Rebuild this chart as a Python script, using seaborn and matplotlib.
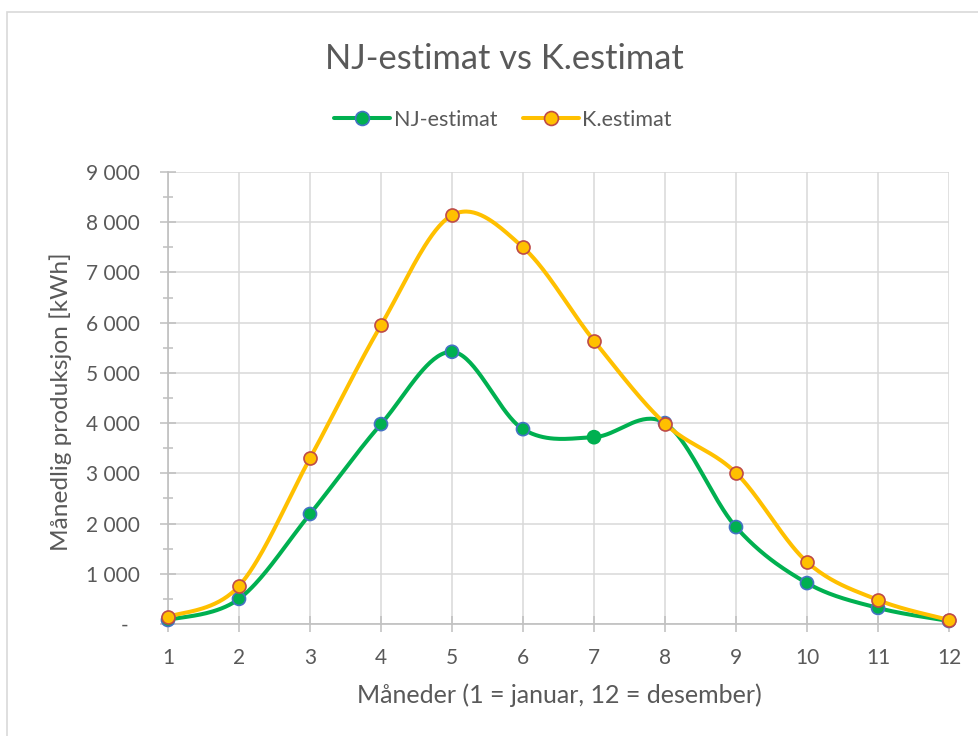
import numpy as np
import pandas as pd
import matplotlib
matplotlib.use("Agg")
import matplotlib.pyplot as plt
from matplotlib.lines import Line2D
from matplotlib.patches import Rectangle
from matplotlib.ticker import FuncFormatter, MultipleLocator
import seaborn as sns

# Monthly production estimates (kWh)
months = [1, 2, 3, 4, 5, 6, 7, 8, 9, 10, 11, 12]
nj_estimat = [80, 500, 2190, 3980, 5420, 3880, 3720, 4000, 1930, 815, 320, 60]
k_estimat = [140, 757, 3300, 5950, 8140, 7500, 5640, 3990, 3008, 1235, 478, 80]
series_names = ["NJ-estimat", "K.estimat"]

title_text = "NJ-estimat vs K.estimat"
xlabel_text = "Måneder (1 = januar, 12 = desember)"
ylabel_text = "Månedlig produksjon [kWh]"

GREEN = "#00B050"
YELLOW = "#FFC000"
BLUE_EDGE = "#4472C4"
RED_EDGE = "#BE4B48"
TEXT = "#595959"
AXIS = "#BFBFBF"
GRID = "#D9D9D9"

sns.set_theme(style="white")
plt.rcParams["font.family"] = ["Lato", "DejaVu Sans"]


def smooth_curve(x, y, n=40):
    """Piecewise cubic Bezier through the points (Catmull-Rom style tangents)."""
    pts = np.column_stack([np.asarray(x, float), np.asarray(y, float)])
    out = []
    t = np.linspace(0, 1, n)[:, None]
    for i in range(len(pts) - 1):
        p0 = pts[i - 1] if i > 0 else pts[i]
        p1, p2 = pts[i], pts[i + 1]
        p3 = pts[i + 2] if i + 2 < len(pts) else pts[i + 1]
        c1 = p1 + (p2 - p0) / 6.0
        c2 = p2 - (p3 - p1) / 6.0
        seg = ((1 - t) ** 3) * p1 + 3 * ((1 - t) ** 2) * t * c1 \
            + 3 * (1 - t) * t ** 2 * c2 + t ** 3 * p2
        out.append(seg if i == 0 else seg[1:])
    arr = np.vstack(out)
    return pd.DataFrame({"x": arr[:, 0], "y": arr[:, 1]})


W, H = 979, 736
fig = plt.figure(figsize=(W / 100, H / 100), dpi=100)
fig.patch.set_facecolor("white")

# chart-area border
fig.add_artist(Rectangle((7.5 / W, -0.2), 2.0, (H - 11.5) / H + 0.2,
                         transform=fig.transFigure, fill=False,
                         edgecolor=GRID, linewidth=1.2))

ax = fig.add_axes([168 / W, 1 - 624 / H, 781 / W, 452 / H])
ax.set_facecolor("white")

nj_curve = smooth_curve(months, nj_estimat)
k_curve = smooth_curve(months, k_estimat)

MARKER_S = 88
MARKER_LW = 1.2

# NJ series: smoothed line + markers (one point drawn without the blue rim)
sns.lineplot(data=nj_curve, x="x", y="y", sort=False, estimator=None,
             color=GREEN, linewidth=2.9, ax=ax, zorder=3)
nj_edges = [BLUE_EDGE] * len(months)
nj_edges[6] = GREEN
sns.scatterplot(x=months, y=nj_estimat, color=GREEN, s=MARKER_S,
                edgecolor=nj_edges, linewidth=MARKER_LW, ax=ax, zorder=4,
                clip_on=False)

# K series drawn after NJ
sns.lineplot(data=k_curve, x="x", y="y", sort=False, estimator=None,
             color=YELLOW, linewidth=2.9, ax=ax, zorder=5)
sns.scatterplot(x=months, y=k_estimat, color=YELLOW, s=MARKER_S,
                edgecolor=RED_EDGE, linewidth=MARKER_LW, ax=ax, zorder=6,
                clip_on=False)

ax.set_xlim(1, 12)
ax.set_ylim(0, 9000)
ax.set_xticks(months)
ax.yaxis.set_major_locator(MultipleLocator(1000))
ax.yaxis.set_minor_locator(MultipleLocator(500))


def fmt_kwh(v, _pos):
    if abs(v) < 1e-9:
        return "-  "
    return f"{int(round(v)):,}".replace(",", " ")


ax.yaxis.set_major_formatter(FuncFormatter(fmt_kwh))

ax.grid(True, which="major", color=GRID, linewidth=1.1, zorder=0)
ax.set_axisbelow(True)
for side in ("top", "right"):
    ax.spines[side].set_visible(False)
for side in ("left", "bottom"):
    ax.spines[side].set_color(AXIS)
    ax.spines[side].set_linewidth(1.2)
    ax.spines[side].set_zorder(2)

ax.tick_params(axis="y", which="major", direction="inout", length=11,
               width=1.1, color=AXIS, labelcolor=TEXT, labelsize=15,
               pad=15, left=True)
ax.tick_params(axis="y", which="minor", direction="inout", length=7,
               width=1.1, color=AXIS, left=True)
ax.tick_params(axis="x", which="major", direction="inout", length=11,
               width=1.1, color=AXIS, labelcolor=TEXT, labelsize=15,
               pad=11.5, bottom=True)
ax.set_xlabel("")
ax.set_ylabel("")

fig.text(504 / W, 1 - 69 / H, title_text, ha="center", va="baseline",
         fontsize=24.8, color=TEXT)
fig.text(559 / W, 1 - 703 / H, xlabel_text, ha="center", va="baseline",
         fontsize=18, color=TEXT)
fig.text(61 / W, 1 - 402 / H, ylabel_text, ha="center", va="center",
         rotation=90, fontsize=17.6, color=TEXT)

handles = [
    Line2D([], [], color=GREEN, linewidth=2.9, marker="o", markersize=10,
           markerfacecolor=GREEN, markeredgecolor=BLUE_EDGE,
           markeredgewidth=MARKER_LW),
    Line2D([], [], color=YELLOW, linewidth=2.9, marker="o", markersize=10,
           markerfacecolor=YELLOW, markeredgecolor=RED_EDGE,
           markeredgewidth=MARKER_LW),
]
leg = fig.legend(handles, series_names, loc="center",
                 bbox_to_anchor=(503 / W, 1 - 120 / H), ncol=2,
                 frameon=False, fontsize=15.5, handlelength=2.6,
                 handletextpad=0.15, columnspacing=1.2)
for txt in leg.get_texts():
    txt.set_color(TEXT)

fig.savefig("out.png", dpi=100, facecolor="white")
